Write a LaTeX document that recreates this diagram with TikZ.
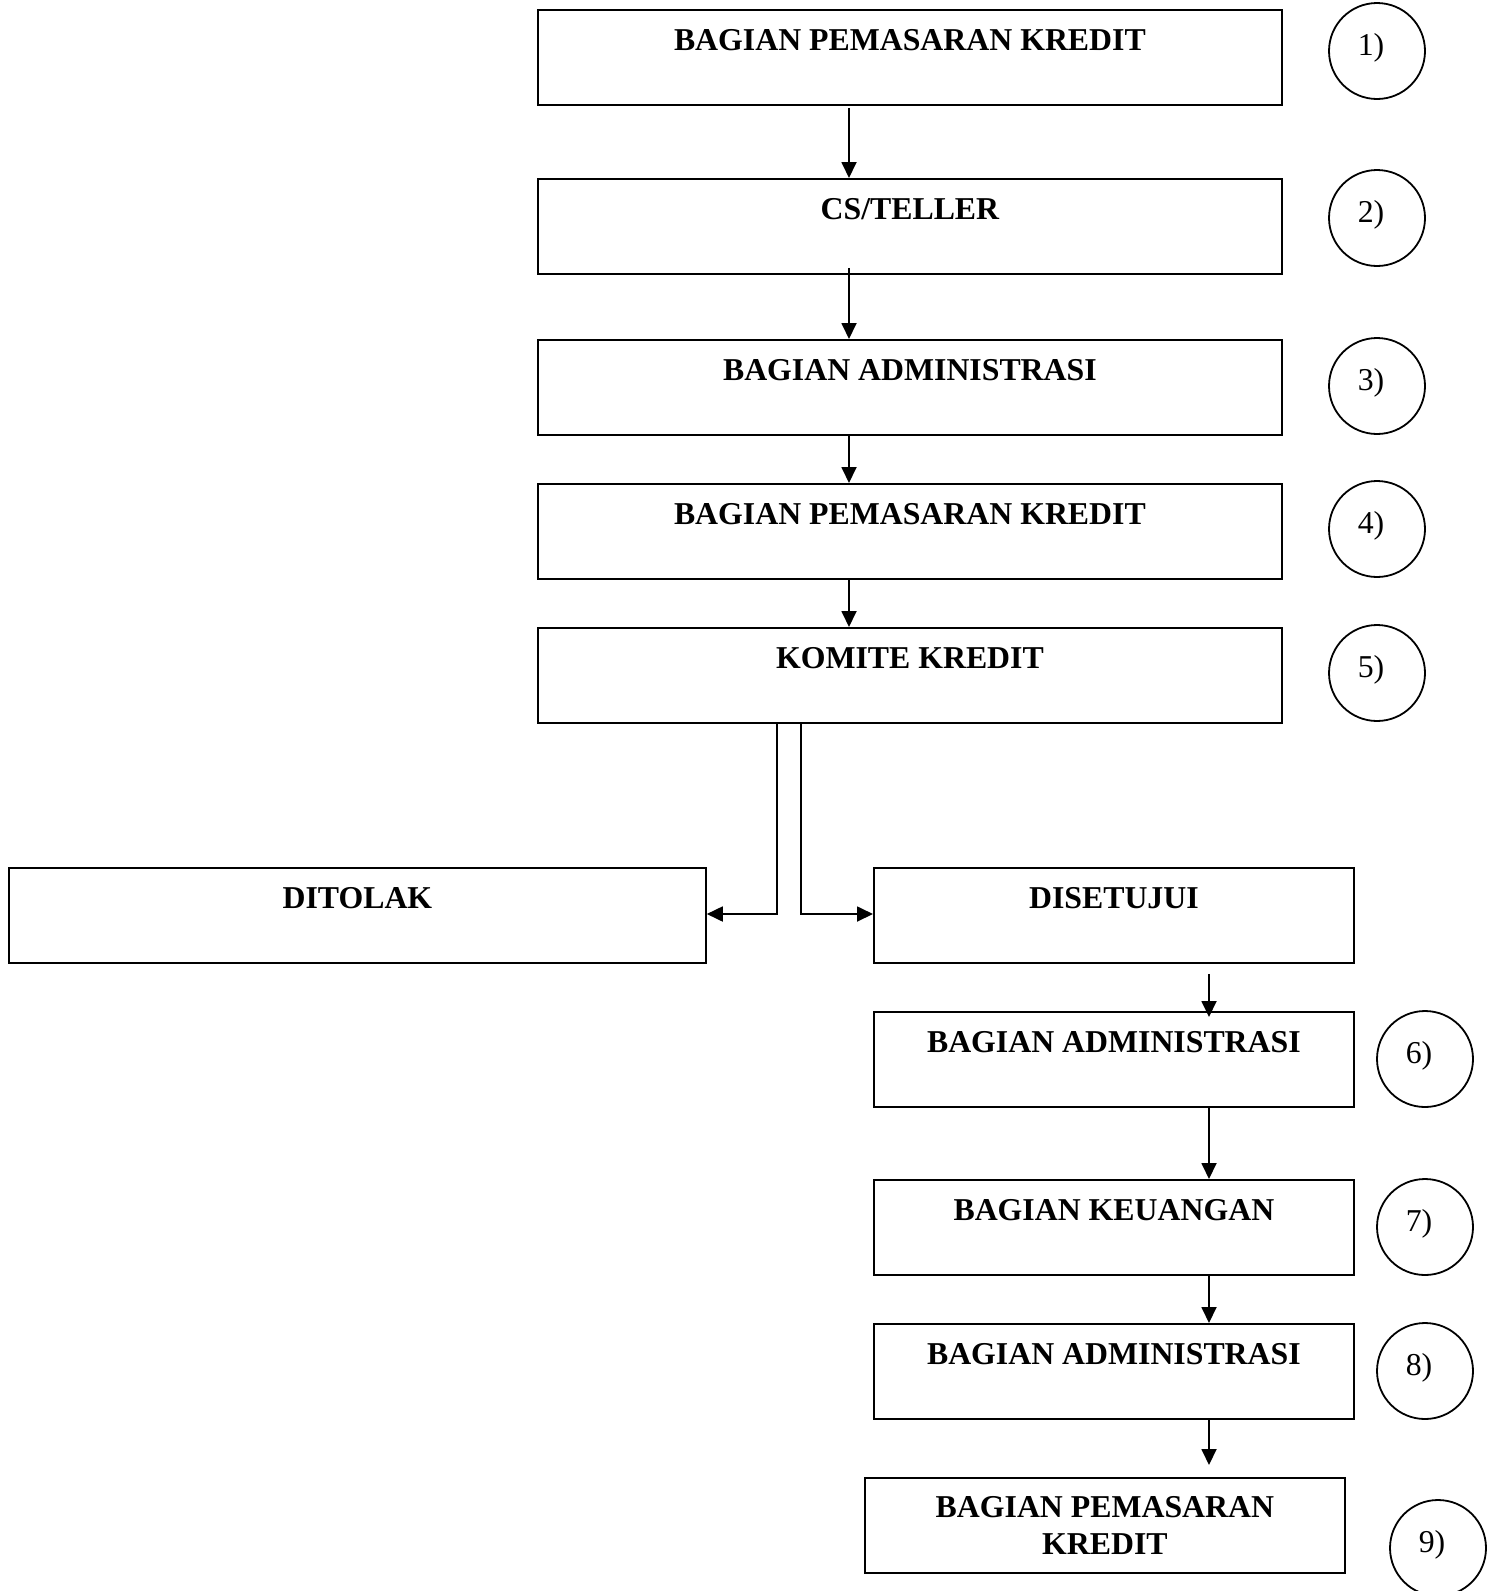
\documentclass[tikz,border=0pt]{standalone}
\usepackage{fontspec}
\setmainfont{Liberation Serif}
\usetikzlibrary{arrows.meta,calc}

\tikzset{
  stepbox/.style={draw, line width=1.8pt, rectangle, inner sep=0pt, anchor=north west,
    minimum height=95pt, text height=41pt, text depth=54pt,
    font=\fontsize{31.8}{37.5}\selectfont\bfseries},
  numcircle/.style={draw, line width=1.8pt, circle, minimum size=96pt, inner sep=0pt},
  numtext/.style={font=\fontsize{31.8}{37.5}\selectfont, anchor=base, inner sep=0pt},
  arr/.style={line width=1.8pt, -{Triangle[length=16pt,width=15pt]}},
  ln/.style={line width=1.8pt}
}

\begin{document}
\begin{tikzpicture}[x=1pt, y=-1pt]
  \useasboundingbox (0,0) rectangle (1494,1591);

  % main column
  \node[stepbox, minimum width=744pt] (b1) at (537,9)   {BAGIAN PEMASARAN KREDIT};
  \node[stepbox, minimum width=744pt] (b2) at (537,178) {CS/TELLER};
  \node[stepbox, minimum width=744pt] (b3) at (537,339) {BAGIAN ADMINISTRASI};
  \node[stepbox, minimum width=744pt] (b4) at (537,483) {BAGIAN PEMASARAN KREDIT};
  \node[stepbox, minimum width=744pt] (b5) at (537,627) {KOMITE KREDIT};

  % decision outcomes
  \node[stepbox, minimum width=697pt] (tolak)  at (8,867)   {DITOLAK};
  \node[stepbox, minimum width=480pt] (setuju) at (873,867) {DISETUJUI};

  % approved branch
  \node[stepbox, minimum width=480pt] (b6) at (873,1011) {BAGIAN ADMINISTRASI};
  \node[stepbox, minimum width=480pt] (b7) at (873,1179) {BAGIAN KEUANGAN};
  \node[stepbox, minimum width=480pt] (b8) at (873,1323) {BAGIAN ADMINISTRASI};
  \node[draw, line width=1.8pt, rectangle, inner sep=0pt, anchor=north west,
        minimum width=480pt, minimum height=95pt, align=center,
        font=\fontsize{31.8}{37.5}\selectfont\bfseries] (b9) at (864,1477)
        {BAGIAN PEMASARAN\\KREDIT};

  % numbered circles
  \foreach \n/\cx/\cy in {1/1377/51, 2/1377/218, 3/1377/386, 4/1377/529, 5/1377/673,
                          6/1425/1059, 7/1425/1227, 8/1425/1371, 9/1438/1548} {
    \node[numcircle] (c\n) at (\cx,\cy) {};
    \node[numtext] (t\n) at ($(c\n.center)+(-6pt,-4pt)$) {\n)};
  }

  % connector guides
  \coordinate (ax) at (849,0);
  \coordinate (bx) at (1209,0);
  \coordinate (lj) at (777,914);
  \coordinate (rj) at (801,914);

  % main column arrows
  \draw[arr] ([yshift=-2pt]b1.south -| ax) -- (b2.north -| ax);
  \draw[arr] ([yshift=7pt]b2.south -| ax) -- (b3.north -| ax);
  \draw[arr] (b3.south -| ax) -- (b4.north -| ax);
  \draw[arr] (b4.south -| ax) -- (b5.north -| ax);

  % split to rejected / approved
  \draw[arr] (b5.south -| lj) -- (lj) -- (tolak.east |- lj);
  \draw[arr] (b5.south -| rj) -- (rj) -- (setuju.west |- rj);

  % approved branch arrows
  \draw[arr] ([yshift=-10pt]setuju.south -| bx) -- ([yshift=-6pt]b6.north -| bx);
  \draw[arr] (b6.south -| bx) -- (b7.north -| bx);
  \draw[arr] (b7.south -| bx) -- (b8.north -| bx);
  \draw[arr] (b8.south -| bx) -- ([yshift=12pt]b9.north -| bx);
\end{tikzpicture}
\end{document}
